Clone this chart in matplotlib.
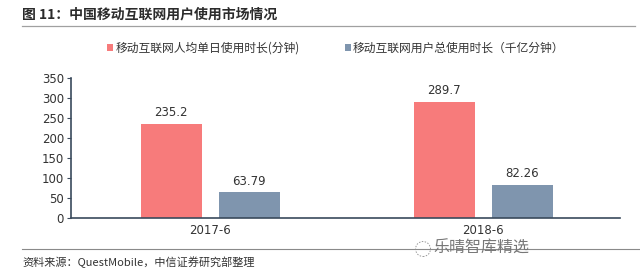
import matplotlib.pyplot as plt
from matplotlib.patches import Ellipse
from matplotlib.lines import Line2D
import numpy as np

plt.rcParams['font.family'] = ['Noto Sans CJK SC', 'DejaVu Sans']

categories = ['2017-6', '2018-6']
daily_minutes = [235.2, 289.7]
total_minutes = [63.79, 82.26]
series_names = ['移动互联网人均单日使用时长(分钟)', '移动互联网用户总使用时长（千亿分钟）']
yticks = [0, 50, 100, 150, 200, 250, 300, 350]

RED = '#F77B7B'
BLUE = '#7F95AE'
AXIS = '#3A4A5C'
TEXT = '#333333'

fig = plt.figure(figsize=(6.4, 2.75), dpi=100)
ax = fig.add_axes([71 / 640, 57 / 275, 549 / 640, 140 / 275])

x = np.arange(len(categories))
w = 0.225
off = 0.143
b1 = ax.bar(x - off, daily_minutes, w, color=RED, label=series_names[0])
b2 = ax.bar(x + off, total_minutes, w, color=BLUE, label=series_names[1])

for bars, vals in ((b1, daily_minutes), (b2, total_minutes)):
    for rect, v in zip(bars, vals):
        ax.text(rect.get_x() + rect.get_width() / 2, v + 12, f'{v:g}',
                ha='center', va='bottom', fontsize=8.5, color=TEXT,
                family=['DejaVu Sans'])

ax.set_xlim(-0.51, 1.5)
ax.set_ylim(0, 350)
ax.set_yticks(yticks)
ax.set_xticks(x)
ax.set_xticklabels(categories)
ax.tick_params(axis='y', length=3, color=AXIS, labelsize=8.5, labelcolor=TEXT, pad=2)
ax.tick_params(axis='x', length=0, labelsize=8.5, labelcolor=TEXT, pad=4)
for t in ax.get_xticklabels() + ax.get_yticklabels():
    t.set_family(['DejaVu Sans'])
for s in ('top', 'right'):
    ax.spines[s].set_visible(False)
for s in ('left', 'bottom'):
    ax.spines[s].set_color(AXIS)
    ax.spines[s].set_linewidth(1.2)

fig.legend(handles=[b1, b2], loc='center', bbox_to_anchor=(0.525, 1 - 48 / 275),
           ncol=2, frameon=False, fontsize=8.5, handlelength=0.5, handleheight=0.5,
           handletextpad=0.2, columnspacing=3.8, labelcolor=TEXT)

# title and rules
fig.text(22 / 640, 1 - 15 / 275, '图 11：中国移动互联网用户使用市场情况', fontsize=10,
         fontweight='bold', color='#2B2B2B', va='center', ha='left')
fig.add_artist(Line2D([22 / 640, 635 / 640], [1 - 26 / 275] * 2, color='#A0A0A0', lw=0.9))
fig.add_artist(Line2D([22 / 640, 1.0], [1 - 249 / 275] * 2, color='#8A8A8A', lw=0.8))
fig.text(22 / 640, 1 - 262 / 275, '资料来源：QuestMobile，中信证券研究部整理', fontsize=8,
         color=TEXT, va='center', ha='left')

# watermark
fig.add_artist(Ellipse((423 / 640, 1 - 249 / 275), 15 / 640, 15 / 275, fill=False,
                       ls=(0, (1.5, 1.5)), ec='#999999', lw=0.7))
fig.text(433 / 640, 1 - 248 / 275, '乐晴智库精选', fontsize=11.5, color='#777777',
         va='center', ha='left')

fig.savefig('out.png', dpi=100)
